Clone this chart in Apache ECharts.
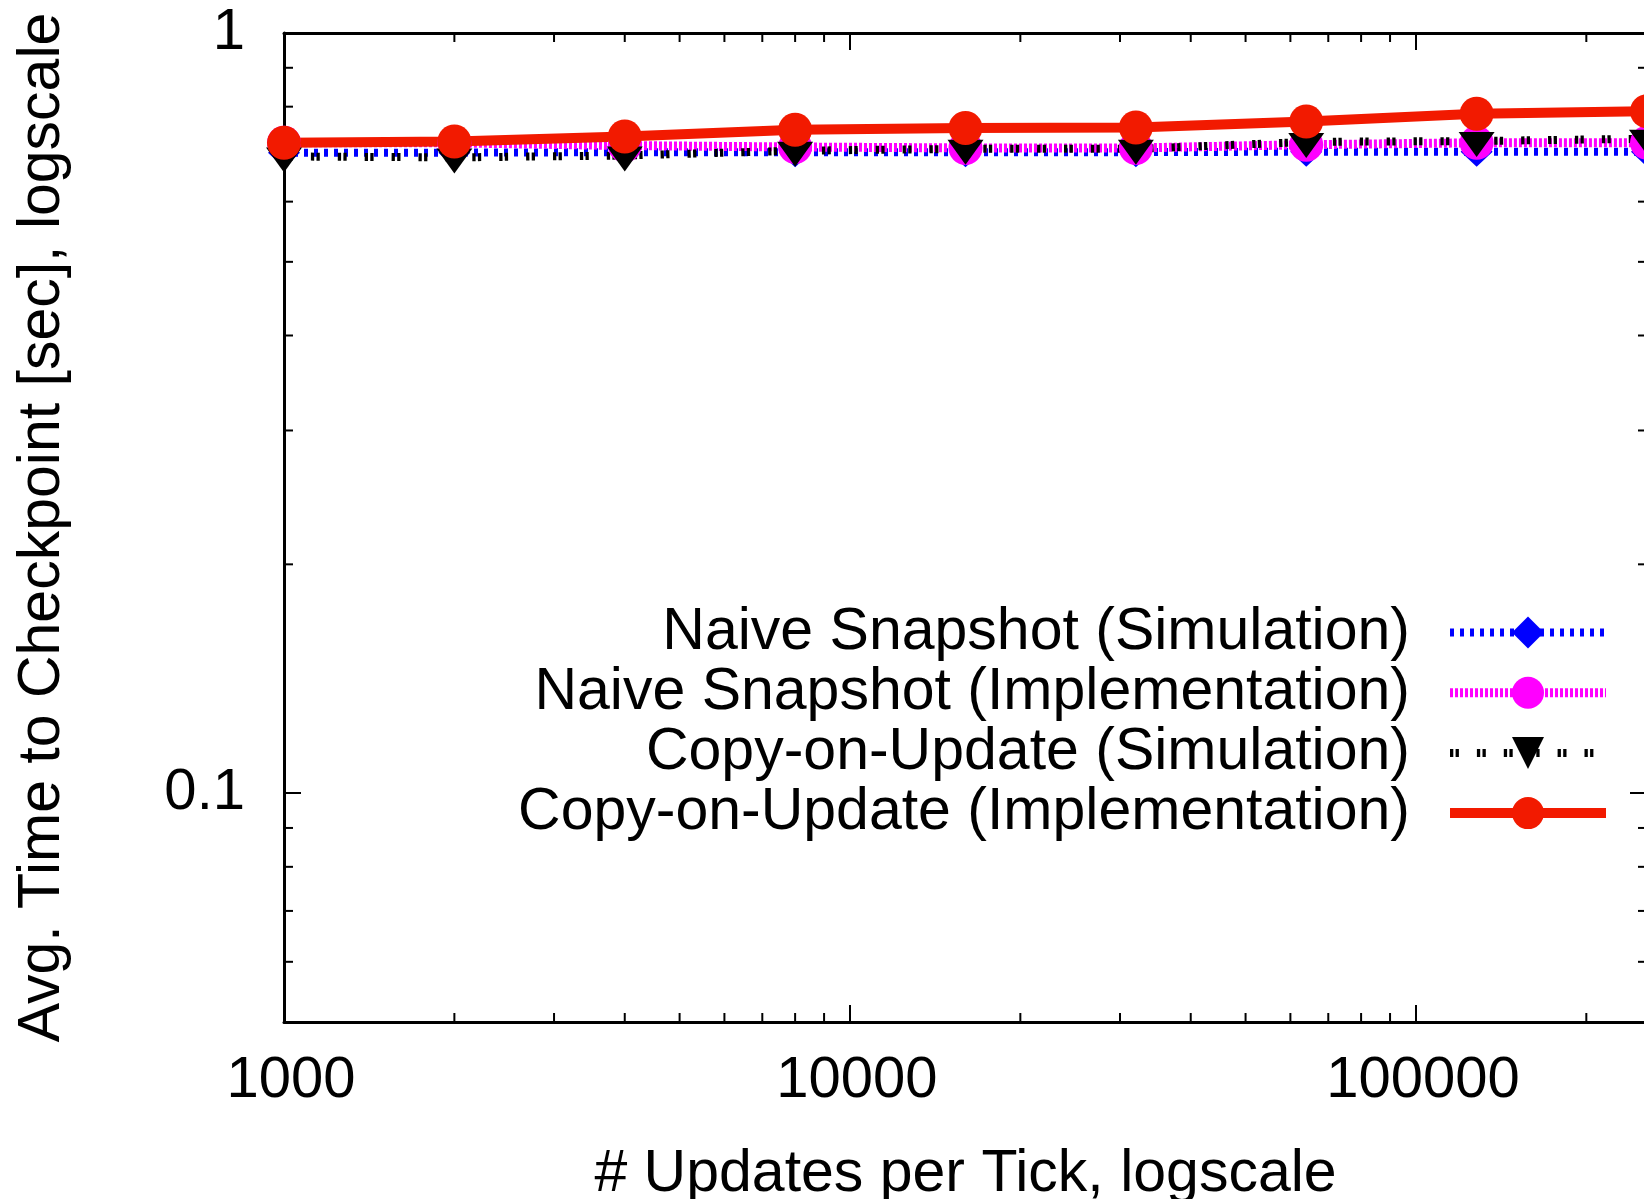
<!DOCTYPE html>
<html>
<head>
<meta charset="utf-8">
<script src="https://cdn.jsdelivr.net/npm/echarts@6/dist/echarts.min.js"></script>
<style>
  html, body { margin: 0; padding: 0; background: #ffffff; }
  #chart { width: 1644px; height: 1199px; }
</style>
</head>
<body>
<div id="chart"></div>
<script>
// Updates per tick (x) and average checkpoint time in seconds (y)
const updatesPerTick = [1000, 2000, 4000, 8000, 16000, 32000, 64000, 128000, 256000];
const naiveSimulation = [0.696, 0.696, 0.697, 0.697, 0.697, 0.697, 0.698, 0.698, 0.698];
const naiveImplementation = [0.717, 0.717, 0.711, 0.708, 0.706, 0.706, 0.713, 0.717, 0.717];
const copySimulation = [0.688, 0.686, 0.690, 0.700, 0.704, 0.704, 0.719, 0.721, 0.726];
const copyImplementation = [0.717, 0.720, 0.731, 0.746, 0.750, 0.751, 0.765, 0.783, 0.789];

const seriesNames = [
  'Naive Snapshot (Simulation)',
  'Naive Snapshot (Implementation)',
  'Copy-on-Update (Simulation)',
  'Copy-on-Update (Implementation)'
];

// Axis ranges and tick labels
const xRange = [1000, 256000];
const yRange = [0.05, 1];
const xTickLabels = { 1000: '1000', 10000: '10000', 100000: '100000' };
const yTickLabels = { 0.1: '0.1', 1: '1' };
const xMinorTicks = [2000, 3000, 4000, 5000, 6000, 7000, 8000, 9000,
  20000, 30000, 40000, 50000, 60000, 70000, 80000, 90000, 200000];
const yMinorTicks = [0.06, 0.07, 0.08, 0.09, 0.2, 0.3, 0.4, 0.5, 0.6, 0.7, 0.8, 0.9];

const FONT = '"Liberation Sans", Arial, Helvetica, sans-serif';
const FS = 58;      // tick labels
const FS_TITLE = 59; // axis titles and legend
const MAJOR = 17;
const MINOR = 9;

function pairs(ys) {
  return updatesPerTick.map((x, i) => [x, ys[i]]);
}

function lookupLabel(table) {
  return function (v) {
    for (const k in table) {
      if (Math.abs(Math.log10(v) - Math.log10(Number(k))) < 1e-6) return table[k];
    }
    return '';
  };
}

const tickLine = { color: '#000', width: 2 };
const borderLine = { color: '#000', width: 3 };

function xAxisDef(pos, showLabel) {
  return {
    type: 'log', logBase: 10, position: pos,
    min: xRange[0], max: xRange[1],
    axisLine: { show: true, onZero: false, lineStyle: borderLine },
    axisTick: { show: true, inside: true, length: MAJOR, lineStyle: tickLine },
    minorTick: { show: false },
    splitLine: { show: false },
    axisLabel: {
      show: showLabel, formatter: lookupLabel(xTickLabels),
      fontFamily: FONT, fontSize: FS, color: '#000', margin: 30,
      padding: [0, 0, 0, 14]
    },
    name: showLabel ? '# Updates per Tick, logscale' : '',
    nameLocation: 'middle', nameGap: 123, nameMoveOverlap: false,
    nameTextStyle: { fontFamily: FONT, fontSize: FS_TITLE, color: '#000' }
  };
}

function yAxisDef(pos, showLabel) {
  return {
    type: 'log', logBase: 10, position: pos,
    min: yRange[0], max: yRange[1],
    axisLine: { show: true, onZero: false, lineStyle: borderLine },
    axisTick: { show: true, inside: true, length: MAJOR, lineStyle: tickLine },
    minorTick: { show: false },
    splitLine: { show: false },
    axisLabel: {
      show: showLabel, formatter: lookupLabel(yTickLabels),
      fontFamily: FONT, fontSize: FS, color: '#000', margin: 39
    },
    name: showLabel ? 'Avg. Time to Checkpoint [sec], logscale' : '',
    nameLocation: 'middle', nameGap: 212, nameMoveOverlap: false,
    nameTextStyle: { fontFamily: FONT, fontSize: FS_TITLE, color: '#000' }
  };
}

// Minor tick marks on all four borders, placed through the axis scales
function xMinorRender(params, api) {
  const cs = params.coordSys;
  const x = api.coord([api.value(0), yRange[1]])[0];
  const top = cs.y, bottom = cs.y + cs.height;
  const st = { stroke: '#000', lineWidth: 2 };
  return {
    type: 'group',
    children: [
      { type: 'line', shape: { x1: x, y1: bottom, x2: x, y2: bottom - MINOR }, style: st },
      { type: 'line', shape: { x1: x, y1: top, x2: x, y2: top + MINOR }, style: st }
    ]
  };
}

function yMinorRender(params, api) {
  const cs = params.coordSys;
  const y = api.coord([xRange[0], api.value(1)])[1];
  const left = cs.x, right = cs.x + cs.width;
  const st = { stroke: '#000', lineWidth: 2 };
  return {
    type: 'group',
    children: [
      { type: 'line', shape: { x1: left, y1: y, x2: left + MINOR, y2: y }, style: st },
      { type: 'line', shape: { x1: right, y1: y, x2: right - MINOR, y2: y }, style: st }
    ]
  };
}

const chart = echarts.init(document.getElementById('chart'), null, { renderer: 'canvas' });

const option = {
  backgroundColor: '#ffffff',
  animation: false,
  textStyle: { fontFamily: FONT },
  grid: {
    left: 284, right: -3, top: 33, bottom: 177,
    containLabel: false, outerBoundsMode: 'none'
  },
  xAxis: [xAxisDef('bottom', true), xAxisDef('top', false)],
  yAxis: [yAxisDef('left', true), yAxisDef('right', false)],
  legend: {
    orient: 'vertical', align: 'right',
    right: 33, top: 603, padding: 0,
    itemWidth: 156, itemHeight: 40, itemGap: 1.2,
    selectedMode: false,
    textStyle: {
      fontFamily: FONT, fontSize: FS_TITLE, color: '#000',
      lineHeight: 58, padding: [0, 35, 0, 0]
    },
    data: [
      { name: seriesNames[0], lineStyle: { width: 8, type: [4, 6] } },
      { name: seriesNames[1], lineStyle: { width: 9, type: [3, 2] } },
      { name: seriesNames[2], lineStyle: { width: 8, type: [3.3, 2.3, 3.3, 18] } },
      { name: seriesNames[3], lineStyle: { width: 10, type: 'solid' } }
    ]
  },
  series: [
    {
      name: seriesNames[0], type: 'line', clip: false,
      data: pairs(naiveSimulation),
      symbol: 'diamond', symbolSize: [32, 30],
      itemStyle: { color: '#0000ff', borderWidth: 0 },
      lineStyle: { color: '#0000ff', width: 8, type: [4, 6] }
    },
    {
      name: seriesNames[1], type: 'line', clip: false,
      data: pairs(naiveImplementation),
      symbol: 'circle', symbolSize: 34,
      itemStyle: { color: '#ff00ff', borderWidth: 0 },
      lineStyle: { color: '#ff00ff', width: 9, type: [3, 2] }
    },
    {
      name: seriesNames[2], type: 'line', clip: false,
      data: pairs(copySimulation),
      symbol: 'triangle', symbolSize: [36, 25], symbolRotate: 180, symbolOffset: [0, 3.5],
      itemStyle: { color: '#000000', borderWidth: 0 },
      lineStyle: { color: '#000000', width: 8, type: [3.3, 2.3, 3.3, 18] }
    },
    {
      name: seriesNames[3], type: 'line', clip: false,
      data: pairs(copyImplementation),
      symbol: 'circle', symbolSize: 34,
      itemStyle: { color: '#f21a00', borderWidth: 0 },
      lineStyle: { color: '#f21a00', width: 10 }
    },
    {
      type: 'custom', silent: true, clip: false,
      renderItem: xMinorRender,
      data: xMinorTicks.map(v => [v, yRange[1]]),
      z: 1
    },
    {
      type: 'custom', silent: true, clip: false,
      renderItem: yMinorRender,
      data: yMinorTicks.map(v => [xRange[0], v]),
      z: 1
    }
  ]
};

chart.setOption(option);
</script>
</body>
</html>
